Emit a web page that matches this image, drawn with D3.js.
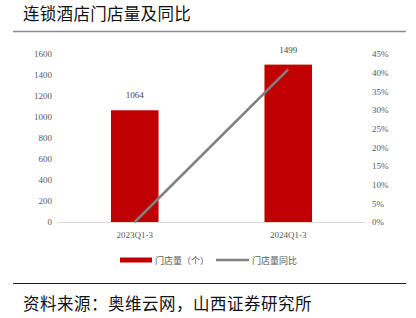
<!DOCTYPE html>
<html><head><meta charset="utf-8">
<script src="https://cdn.jsdelivr.net/npm/d3@7/dist/d3.min.js"></script>
<style>body{margin:0;background:#fff;}svg{display:block;}</style>
</head><body>
<svg id="c" width="416" height="318"></svg>
<script>
const categories = ["2023Q1-3", "2024Q1-3"];
const storeCounts = [1064, 1499];
const yoyGrowth = [0, 0.409];
const leftTicks = [0, 200, 400, 600, 800, 1000, 1200, 1400, 1600];
const rightTicks = [0, 0.05, 0.10, 0.15, 0.20, 0.25, 0.30, 0.35, 0.40, 0.45];
const title = "连锁酒店门店量及同比";
const source = "资料来源：奥维云网，山西证券研究所";
const legendLabels = ["门店量（个）", "门店量同比"];

const svg = d3.select("#c");
const cjk = "'Noto Sans CJK SC', sans-serif";
const serif = "'Liberation Serif', 'DejaVu Serif', serif";

// title and rules
svg.append("text").attr("x", 23).attr("y", 20).attr("font-family", cjk).attr("font-size", 16.5).attr("letter-spacing", 0.3).attr("fill", "#111").text(title);
svg.append("line").attr("x1", 13).attr("x2", 406).attr("y1", 31.5).attr("y2", 31.5).attr("stroke", "#8c8c8c").attr("stroke-width", 1.5);
svg.append("line").attr("x1", 13).attr("x2", 406).attr("y1", 283.5).attr("y2", 283.5).attr("stroke", "#222").attr("stroke-width", 1.2);
svg.append("text").attr("x", 23).attr("y", 309.5).attr("font-family", cjk).attr("font-size", 16.5).attr("letter-spacing", 0.5).attr("fill", "#111").text(source);

const x = d3.scaleBand().domain(categories).range([58, 365]).paddingInner(0.69).paddingOuter(0.345);
const y = d3.scaleLinear().domain([0, 1600]).range([222, 54]);
const y2 = d3.scaleLinear().domain([0, 0.45]).range([222, 54]);

// left axis
const la = svg.append("g").attr("transform", "translate(58,0)")
  .call(d3.axisLeft(y).tickValues(leftTicks).tickSize(0).tickPadding(6).tickFormat(d3.format("d")));
la.select(".domain").remove();
la.selectAll("text").attr("font-family", serif).attr("font-size", 9).attr("fill", "#595959");

// right axis
const ra = svg.append("g").attr("transform", "translate(365,0)")
  .call(d3.axisRight(y2).tickValues(rightTicks).tickSize(0).tickPadding(7).tickFormat(d3.format(".0%")));
ra.select(".domain").remove();
ra.selectAll("text").attr("font-family", serif).attr("font-size", 9).attr("fill", "#595959");

// baseline
svg.append("line").attr("x1", 58).attr("x2", 365).attr("y1", 222.5).attr("y2", 222.5).attr("stroke", "#d9d9d9").attr("stroke-width", 1);

// bars
svg.selectAll("rect.bar").data(categories).enter().append("rect").attr("class", "bar")
  .attr("x", d => x(d)).attr("width", x.bandwidth())
  .attr("y", (d, i) => y(storeCounts[i])).attr("height", (d, i) => y(0) - y(storeCounts[i]))
  .attr("fill", "#c00000");

// bar labels
svg.selectAll("text.lbl").data(categories).enter().append("text").attr("class", "lbl")
  .attr("x", d => x(d) + x.bandwidth() / 2).attr("y", (d, i) => y(storeCounts[i]) - 12)
  .attr("text-anchor", "middle").attr("font-family", serif).attr("font-size", 9).attr("fill", "#404040")
  .text((d, i) => storeCounts[i]);

// x labels
svg.selectAll("text.xl").data(categories).enter().append("text").attr("class", "xl")
  .attr("x", d => x(d) + x.bandwidth() / 2).attr("y", 238)
  .attr("text-anchor", "middle").attr("font-family", serif).attr("font-size", 9).attr("fill", "#595959")
  .text(d => d);

// line
const line = d3.line().x((d, i) => x(categories[i]) + x.bandwidth() / 2).y(d => y2(d));
svg.append("path").datum(yoyGrowth).attr("d", line).attr("fill", "none").attr("stroke", "#808080").attr("stroke-width", 2.5);

// legend
svg.append("rect").attr("x", 120).attr("y", 257.5).attr("width", 32).attr("height", 5).attr("fill", "#c00000");
svg.append("text").attr("x", 155).attr("y", 264).attr("font-family", cjk).attr("font-size", 9).attr("fill", "#595959").text(legendLabels[0]);
svg.append("line").attr("x1", 216).attr("x2", 249).attr("y1", 260).attr("y2", 260).attr("stroke", "#808080").attr("stroke-width", 2.5);
svg.append("text").attr("x", 252).attr("y", 264).attr("font-family", cjk).attr("font-size", 9).attr("fill", "#595959").text(legendLabels[1]);
</script>
</body></html>
